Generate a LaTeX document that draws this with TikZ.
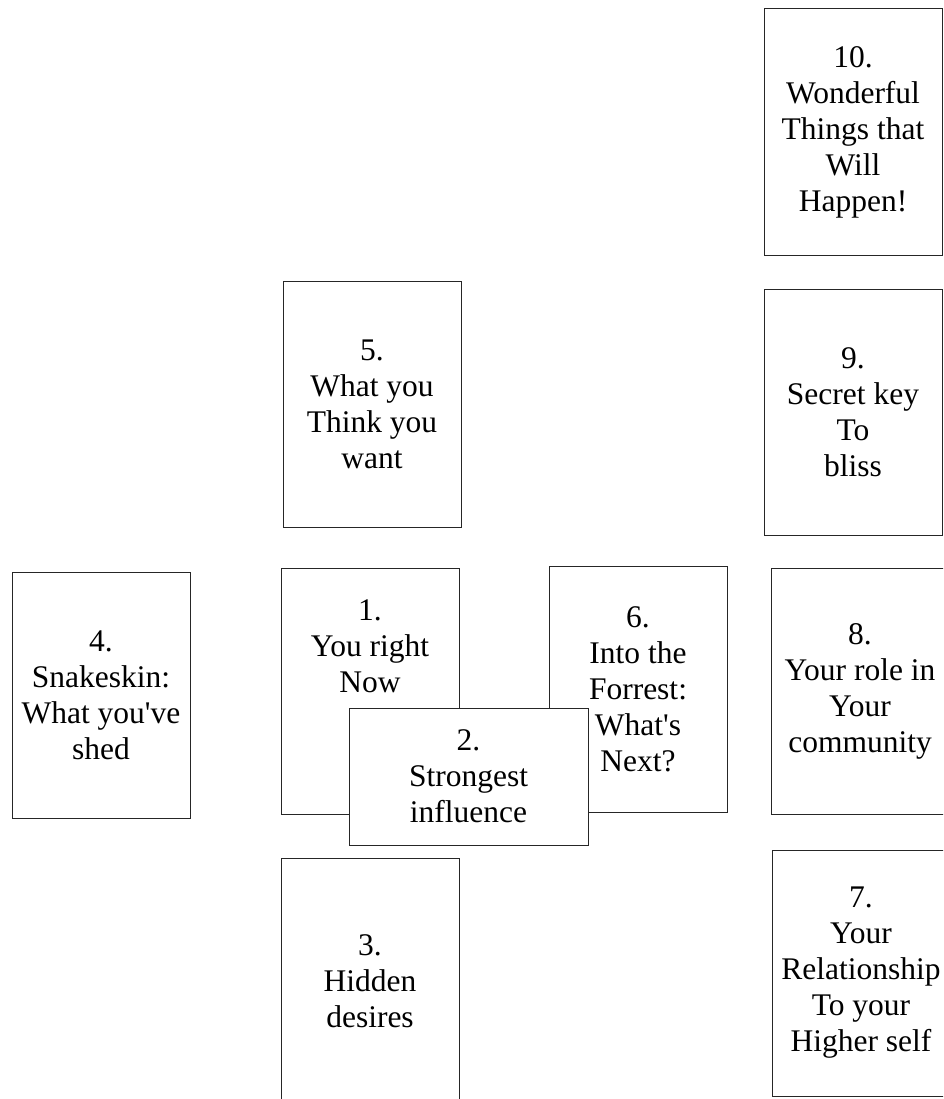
\documentclass[tikz,border=0pt]{standalone}
\usepackage{fontspec}
\setmainfont{Liberation Serif}[Ligatures=TeXOff]
\usepackage{tikz}
\usetikzlibrary{positioning}

\begin{document}
\begin{tikzpicture}[x=1pt, y=-1pt]
        \tikzstyle{card}=[draw=black!85, line width=1pt, fill=white, align=center,
            minimum width=178pt, minimum height=246pt, inner sep=0pt,
            font=\fontsize{31.5}{36}\selectfont]
        \tikzstyle{crosscard}=[card, minimum width=239pt, minimum height=137pt]

        \clip (0,0) rectangle (943,1099);

        % right-hand column
        \node[card] (ten)   at (853,132) {10.\\Wonderful\\Things that\\Will\\Happen!};
        \node[card] (nine)  at (853,412) {9.\\Secret key\\To\\bliss};
        \node[card] (eight) at (860,691) {8.\\Your role in\\Your\\community};
        \node[card] (seven) at (861,973) {7.\\Your\\Relationship\\To your\\Higher self};

        % the cross
        \node[card] (five)  at (372,404) {5.\\What you\\Think you\\want};
        \node[card] (four)  at (101,695) {4.\\Snakeskin:\\What you've\\shed};
        \node[card] (one)   at (370,691) {1.\\You right\\Now\\[53pt]\mbox{}};
        \node[card] (six)   at (638,689) {6.\\Into the\\Forrest:\\What's\\Next?};
        \node[card] (three) at (370,981) {3.\\Hidden\\desires};

        \node[crosscard] (two) at (468.5,776.5) {2.\\Strongest\\influence};

    \end{tikzpicture}
\end{document}
